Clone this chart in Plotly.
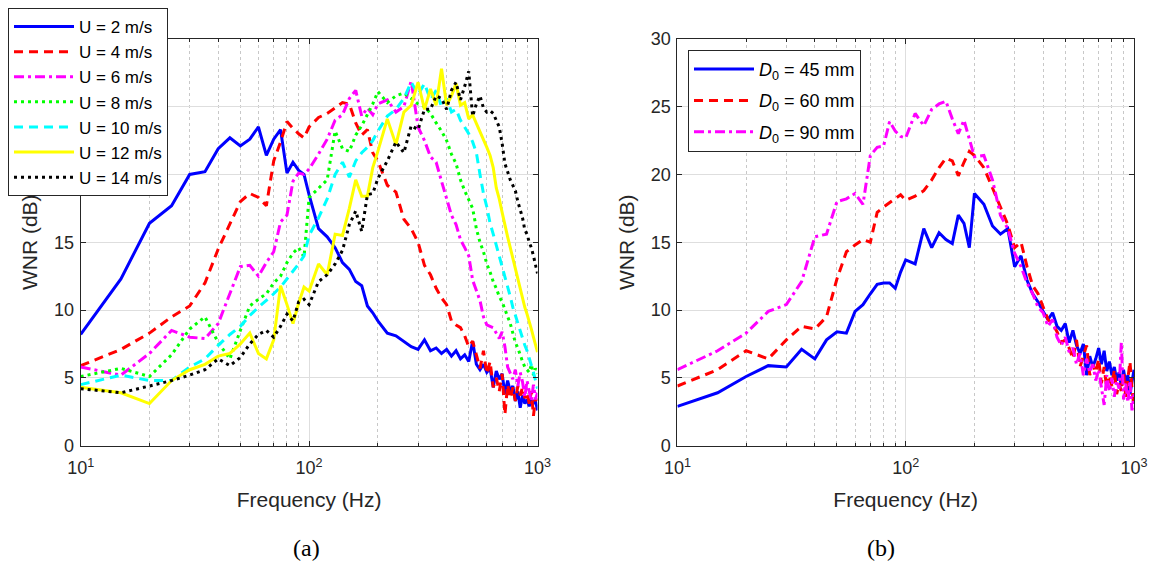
import plotly.graph_objects as go

# Frequency grid (Hz), shared by all series
FREQ = [10, 15, 20, 25, 30, 35, 40, 45, 50, 55, 60, 65, 70, 75, 80, 85, 90, 95, 100,
        110, 120, 130, 140, 150, 160, 170, 180, 190, 200,
        220, 240, 260, 280, 300, 320, 340, 360, 380, 400,
        420, 440, 460, 480, 500, 520, 540, 560, 580, 600,
        620, 640, 660, 680, 700, 720, 740, 760, 780, 800,
        820, 840, 860, 880, 900, 920, 940, 960, 980, 1000]

# ---- Panel (a): WNR (dB) for several flow speeds ----
U2 = [8.2, 12.3, 16.4, 17.7, 20.0, 20.2, 21.9, 22.7, 22.1, 22.6, 23.5, 21.4, 22.6, 23.3, 20.1, 20.9, 20.3, 20.0, 18.5,
      16.0, 15.4, 14.6, 13.5, 13.0, 12.1, 11.8, 10.3, 9.8, 9.2,
      8.3, 8.1, 7.7, 7.3, 7.1, 7.8, 7.0, 7.2, 6.8, 7.1,
      6.6, 7.0, 6.4, 6.7, 6.2, 7.7, 6.0, 5.6, 6.0, 5.4,
      5.7, 4.3, 5.5, 4.9, 5.3, 3.8, 4.8, 4.0, 4.4, 3.3,
      4.0, 2.8, 3.7, 3.1, 3.4, 2.9, 3.5, 3.1, 3.3, 2.6]
U4 = [5.9, 7.1, 8.3, 9.5, 10.3, 12.0, 14.5, 16.3, 18.0, 18.6, 18.3, 17.7, 21.0, 22.4, 23.9, 23.4, 23.0, 22.7, 23.5,
      24.2, 24.5, 24.9, 25.3, 25.2, 23.8, 22.9, 23.3, 21.6, 21.0,
      19.2, 18.7, 16.7, 16.0, 15.0, 13.3, 12.6, 11.6, 10.9, 10.4,
      9.2, 8.9, 8.7, 8.1, 7.3, 7.7, 6.7, 5.7, 7.0, 5.3,
      6.2, 4.3, 5.0, 4.0, 5.3, 2.3, 4.5, 3.5, 4.3, 3.3,
      4.4, 3.7, 4.3, 3.5, 3.9, 3.1, 4.0, 2.2, 3.5, 3.3]
U6 = [5.8, 5.2, 6.8, 8.5, 8.0, 7.9, 9.0, 11.2, 13.2, 13.3, 12.5, 13.5, 14.3, 16.5, 17.0, 19.5, 20.1, 20.0, 20.4,
      21.5, 22.6, 24.0, 24.4, 25.6, 26.2, 24.3, 24.9, 24.4, 25.2,
      25.5, 24.6, 25.0, 26.9, 23.5, 22.5, 21.3, 20.9, 19.5, 18.3,
      17.0, 16.3, 15.2, 14.6, 14.0, 12.2, 11.5, 10.7, 9.5, 8.9,
      8.8, 8.7, 8.3, 7.9, 8.4, 7.3, 5.8, 5.4, 4.9, 5.6,
      4.4, 5.4, 4.7, 3.6, 4.8, 4.0, 3.3, 4.5, 3.4, 3.9]
U8 = [5.1, 5.7, 5.1, 6.7, 8.6, 9.5, 7.6, 6.4, 8.5, 10.3, 10.8, 11.2, 12.0, 12.5, 13.5, 14.2, 14.6, 13.9, 18.3,
      19.0, 19.6, 23.2, 21.9, 21.7, 22.9, 23.6, 24.4, 25.2, 26.1,
      25.3, 25.8, 26.0, 25.6, 25.2, 25.0, 24.5, 23.8, 23.2, 22.5,
      21.5, 20.8, 19.6, 18.8, 18.2, 17.5, 16.0, 15.0, 14.3, 13.4,
      12.8, 12.1, 11.6, 11.0, 10.6, 10.1, 9.5, 9.0, 8.3, 7.6,
      7.2, 6.6, 6.2, 5.8, 5.6, 5.4, 6.0, 5.2, 5.7, 5.3]
U10 = [4.5, 5.2, 4.8, 4.8, 5.8, 6.4, 7.4, 8.2, 8.8, 9.6, 10.2, 10.7, 11.2, 11.7, 12.3, 12.8, 13.4, 14.0, 15.5,
       16.8, 18.2, 20.0, 20.9, 19.8, 21.0, 21.6, 22.0, 22.5, 23.2,
       24.3, 24.8, 25.6, 26.8, 25.9, 26.7, 25.5, 26.2, 25.0, 25.6,
       24.6, 24.8, 24.0, 23.5, 23.0, 22.4, 21.6, 20.0, 18.6, 17.6,
       16.4, 15.6, 14.8, 14.0, 13.2, 12.6, 11.8, 11.0, 10.2, 9.6,
       9.0, 8.6, 7.9, 7.4, 7.0, 6.5, 6.0, 5.4, 4.8, 4.2]
U12 = [4.3, 3.9, 3.1, 4.8, 5.6, 6.0, 6.6, 6.8, 7.5, 8.3, 6.8, 6.4, 7.8, 11.8, 10.4, 9.0, 10.5, 11.7, 11.4,
       13.4, 12.6, 15.6, 15.5, 17.5, 19.6, 18.4, 18.4, 20.5, 21.7,
       24.1, 22.2, 24.6, 25.1, 26.8, 24.8, 26.3, 25.1, 27.8, 25.1,
       25.8, 26.7, 25.1, 25.3, 24.1, 24.4, 23.8, 23.2, 22.6, 22.0,
       21.4, 20.5, 19.0, 18.2, 17.2, 16.2, 15.4, 14.6, 13.8, 13.0,
       12.2, 11.4, 10.7, 10.2, 9.7, 9.2, 8.6, 8.0, 7.4, 6.9]
U14 = [4.2, 3.9, 4.4, 4.8, 5.2, 5.6, 6.4, 5.9, 6.5, 7.5, 8.2, 8.5, 8.0, 8.8, 9.7, 9.2, 10.6, 10.8, 10.4,
       12.1, 12.6, 13.4, 14.4, 16.3, 17.3, 15.8, 18.5, 18.6, 19.7,
       21.0, 22.4, 21.6, 23.6, 23.3, 24.8, 24.8, 25.8, 25.6, 24.8,
       26.2, 26.8, 25.5, 26.5, 27.6, 24.3, 25.2, 25.8, 24.9, 24.6,
       24.7, 24.5, 24.0, 23.5, 22.3, 20.8, 20.2, 19.6, 19.2, 18.8,
       18.0, 17.4, 16.8, 15.9, 15.6, 15.0, 14.6, 14.0, 13.4, 12.7]

# ---- Panel (b): WNR (dB) for several diameters ----
D45 = [2.9, 3.9, 5.1, 5.9, 5.8, 7.1, 6.4, 7.8, 8.4, 8.3, 9.9, 10.4, 11.2, 11.9, 12.0, 12.0, 11.6, 12.8, 13.7,
       13.4, 16.0, 14.6, 15.7, 15.2, 14.9, 17.0, 16.4, 14.6, 18.6,
       17.8, 16.2, 15.6, 16.0, 13.2, 14.0, 12.2, 11.2, 10.6, 9.9,
       9.3, 9.8, 8.8, 8.5, 9.0, 7.6, 8.5, 7.4, 6.8, 7.5,
       5.2, 6.6, 5.8, 6.4, 7.2, 6.0, 7.0, 5.5, 6.2, 5.2,
       5.8, 4.8, 5.4, 4.4, 5.6, 4.6, 5.2, 3.8, 4.6, 5.6]
D60 = [4.4, 5.6, 7.0, 6.4, 7.8, 8.8, 8.6, 9.5, 12.3, 14.3, 14.8, 15.2, 15.0, 17.2, 17.6, 17.9, 18.2, 18.5, 18.1,
       18.4, 18.8, 19.6, 20.5, 21.2, 21.0, 19.9, 20.9, 21.7, 21.4,
       20.5, 19.0, 17.6, 16.3, 14.6, 15.0, 13.2, 11.8, 11.2, 10.2,
       9.3, 9.0, 8.4, 7.6, 7.8, 7.2, 6.4, 7.8, 5.8, 6.6,
       7.4, 5.2, 6.0, 5.4, 6.4, 4.6, 5.8, 4.2, 5.2, 4.4,
       5.6, 3.8, 4.6, 4.0, 5.4, 3.6, 4.8, 6.2, 4.2, 2.8]
D90 = [5.6, 7.0, 8.3, 9.9, 10.4, 12.1, 15.4, 15.6, 18.0, 18.2, 18.6, 17.8, 21.4, 22.0, 22.1, 23.9, 23.2, 22.8, 22.7,
       24.5, 23.6, 24.8, 25.2, 25.4, 24.1, 23.0, 24.0, 22.6, 21.3,
       21.4, 19.6, 17.0, 16.0, 14.2, 13.2, 12.0, 11.2, 10.2, 9.8,
       8.8, 9.3, 8.0, 7.4, 8.0, 6.9, 7.2, 6.0, 6.8, 5.2,
       6.4, 5.4, 6.0, 4.8, 5.6, 4.4, 3.0, 5.2, 4.0, 5.0,
       3.6, 4.8, 4.2, 7.6, 3.4, 4.6, 3.2, 4.8, 2.6, 3.8]

LEFT_NAMES = ["U = 2 m/s", "U = 4 m/s", "U = 6 m/s", "U = 8 m/s",
              "U = 10 m/s", "U = 12 m/s", "U = 14 m/s"]
RIGHT_NAMES = ["<i>D</i><sub>0</sub> = 45 mm", "<i>D</i><sub>0</sub> = 60 mm",
               "<i>D</i><sub>0</sub> = 90 mm"]

MAJOR_X = [10, 100, 1000]
MAJOR_X_TEXT = ["10<sup>1</sup>", "10<sup>2</sup>", "10<sup>3</sup>"]
MINOR_X = [20, 30, 40, 50, 60, 70, 80, 90, 200, 300, 400, 500, 600, 700, 800, 900]

# The page body adds an 8 px margin; the figure is sized to fit the window.
OFF = 8
W, H = 1157 - OFF, 568 - OFF
FONT = "Liberation Sans, Arial, sans-serif"
AXC = "#262626"


def px_x(p):
    return (p - OFF) / W


def px_y(p):
    return 1 - (p - OFF) / H


left_styles = [
    ("#0000FF", "solid"),
    ("#FF0000", "9px,6px"),
    ("#FF00FF", "10px,4px,3px,4px"),
    ("#00FF00", "3px,4px"),
    ("#00FFFF", "9px,6px"),
    ("#FFFF00", "solid"),
    ("#000000", "3px,4px"),
]
right_styles = [
    ("#0000FF", "solid"),
    ("#FF0000", "9px,6px"),
    ("#FF00FF", "10px,4px,3px,4px"),
]

fig = go.Figure()
for i, (ys, name, (col, dash)) in enumerate(zip([U2, U4, U6, U8, U10, U12, U14], LEFT_NAMES, left_styles)):
    fig.add_trace(go.Scatter(x=FREQ, y=ys, mode="lines", name=name,
                             line=dict(color=col, width=3, dash=dash),
                             xaxis="x", yaxis="y", legend="legend",
                             legendgroup="a%d" % i))
for i, (ys, name, (col, dash)) in enumerate(zip([D45, D60, D90], RIGHT_NAMES, right_styles)):
    fig.add_trace(go.Scatter(x=FREQ, y=ys, mode="lines", name=name,
                             line=dict(color=col, width=3, dash=dash),
                             xaxis="x2", yaxis="y2", legend="legend2",
                             legendgroup="b%d" % i))

ydom = [px_y(445), px_y(36)]


def xaxis_cfg(domain, anchor):
    return dict(
        type="log", range=[1, 3], domain=domain, anchor=anchor,
        tickmode="array", tickvals=MAJOR_X, ticktext=MAJOR_X_TEXT,
        ticks="inside", ticklen=5, tickcolor=AXC, tickwidth=1,
        showline=True, linecolor=AXC, linewidth=1, mirror="ticks",
        showgrid=True, gridcolor="#dedede", gridwidth=1,
        minor=dict(tickmode="array", tickvals=MINOR_X, ticks="inside", ticklen=3,
                   tickcolor=AXC, showgrid=True, gridcolor="#c8c8c8",
                   griddash="dot", gridwidth=1),
        tickfont=dict(family=FONT, size=18, color=AXC),
        ticklabelstandoff=6, ticklabeloverflow="allow",
        title=dict(text="Frequency (Hz)", font=dict(family=FONT, size=21, color=AXC),
                   standoff=15),
        automargin=False, zeroline=False,
    )


def yaxis_cfg(anchor):
    return dict(
        range=[0, 30], domain=ydom, anchor=anchor,
        tickmode="linear", tick0=0, dtick=5,
        ticks="inside", ticklen=5, tickcolor=AXC, tickwidth=1,
        showline=True, linecolor=AXC, linewidth=1, mirror="ticks",
        showgrid=True, gridcolor="#dedede", gridwidth=1,
        tickfont=dict(family=FONT, size=18, color=AXC),
        ticklabelstandoff=2, ticklabeloverflow="allow",
        title=dict(text="WNR (dB)", font=dict(family=FONT, size=21, color=AXC),
                   standoff=10),
        automargin=False, zeroline=False,
    )


CAP_FONT = dict(family="Liberation Serif, Times New Roman, serif", size=24, color="black")

fig.update_layout(
    width=W, height=H,
    margin=dict(l=0, r=0, t=0, b=0),
    paper_bgcolor="white", plot_bgcolor="white",
    xaxis=xaxis_cfg([px_x(80.7), px_x(537.5)], "y"),
    yaxis=yaxis_cfg("x"),
    xaxis2=xaxis_cfg([px_x(677.4), px_x(1134)], "y2"),
    yaxis2=yaxis_cfg("x2"),
    legend=dict(x=px_x(8), y=px_y(5), xanchor="left", yanchor="top",
                bgcolor="white", bordercolor=AXC, borderwidth=1,
                font=dict(family=FONT, size=17, color="black"),
                itemwidth=60, tracegroupgap=0, itemclick=False),
    legend2=dict(x=px_x(688), y=px_y(47), xanchor="left", yanchor="top",
                 bgcolor="white", bordercolor=AXC, borderwidth=1,
                 font=dict(family=FONT, size=18, color="black"),
                 itemwidth=60, tracegroupgap=5, itemclick=False),
    showlegend=True,
    annotations=[
        dict(text="(a)", x=px_x(306), y=px_y(548), xref="paper", yref="paper",
             xanchor="center", yanchor="middle", showarrow=False, font=CAP_FONT),
        dict(text="(b)", x=px_x(881), y=px_y(548), xref="paper", yref="paper",
             xanchor="center", yanchor="middle", showarrow=False, font=CAP_FONT),
    ],
)

fig.write_html("out.html")
